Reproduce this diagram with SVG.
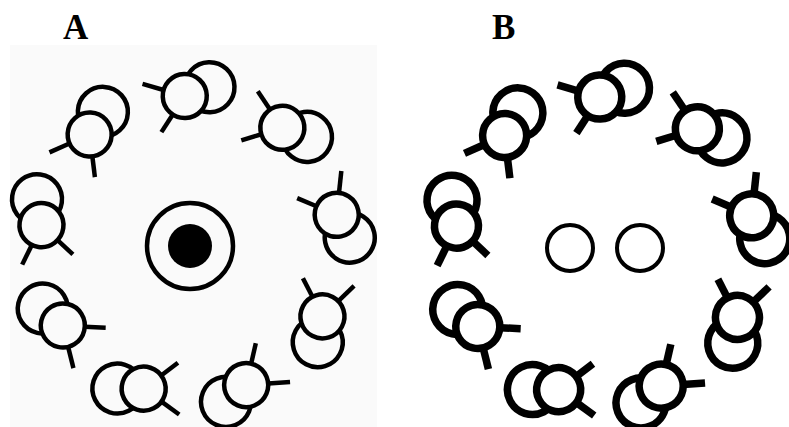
<svg xmlns="http://www.w3.org/2000/svg" width="789" height="427" viewBox="0 0 789 427">
<style>
.lbl{font-family:"Liberation Serif","Times New Roman",serif;font-weight:bold;font-size:35px;fill:#000}
.tub{stroke:#000;stroke-linecap:butt}
#panelA{stroke-width:4.5;fill:#fafafa}
#panelB{stroke-width:7.5;fill:#fff}
</style>
<defs>
<g id="doublet" class="tub">
<circle cx="25" cy="-8" r="25"/>
<circle cx="0" cy="0" r="22"/>
<line x1="-21" y1="-6.8" x2="-41.8" y2="-13.6"/>
<line x1="-12.6" y1="18" x2="-24.6" y2="35.2"/>
</g>
</defs>
<rect width="789" height="427" fill="#fff"/>
<rect x="10" y="45" width="367" height="382" fill="#fafafa"/>
<text class="lbl" x="63" y="39">A</text>
<text class="lbl" x="492" y="39">B</text>
<g id="panelA">
<g id="A-doublets">
<use id="A-d1" href="#doublet" transform="translate(190 246) rotate(-2) translate(0 -150)"/>
<use id="A-d2" href="#doublet" transform="translate(190 246) rotate(38) translate(0 -150)"/>
<use id="A-d3" href="#doublet" transform="translate(190 246) rotate(78) translate(0 -150)"/>
<use id="A-d4" href="#doublet" transform="translate(190 246) rotate(118) translate(0 -150)"/>
<use id="A-d5" href="#doublet" transform="translate(190 246) rotate(158) translate(0 -150)"/>
<use id="A-d6" href="#doublet" transform="translate(190 246) rotate(198) translate(0 -150)"/>
<use id="A-d7" href="#doublet" transform="translate(190 246) rotate(238) translate(0 -150)"/>
<use id="A-d8" href="#doublet" transform="translate(190 246) rotate(278) translate(0 -150)"/>
<use id="A-d9" href="#doublet" transform="translate(190 246) rotate(318) translate(0 -150)"/>
</g>
<g id="A-central">
<circle cx="190" cy="246" r="43" stroke="#000" stroke-width="4.5" fill="none"/>
<circle cx="190" cy="246" r="22" fill="#000" stroke="none"/>
</g>
</g>
<g id="panelB">
<g id="B-doublets">
<use id="B-d1" href="#doublet" transform="translate(605 247) rotate(-2) translate(0 -150)"/>
<use id="B-d2" href="#doublet" transform="translate(605 247) rotate(38) translate(0 -150)"/>
<use id="B-d3" href="#doublet" transform="translate(605 247) rotate(78) translate(0 -150)"/>
<use id="B-d4" href="#doublet" transform="translate(605 247) rotate(118) translate(0 -150)"/>
<use id="B-d5" href="#doublet" transform="translate(605 247) rotate(158) translate(0 -150)"/>
<use id="B-d6" href="#doublet" transform="translate(605 247) rotate(198) translate(0 -150)"/>
<use id="B-d7" href="#doublet" transform="translate(605 247) rotate(238) translate(0 -150)"/>
<use id="B-d8" href="#doublet" transform="translate(605 247) rotate(278) translate(0 -150)"/>
<use id="B-d9" href="#doublet" transform="translate(605 247) rotate(318) translate(0 -150)"/>
</g>
<g id="B-central">
<circle cx="570" cy="248" r="23" stroke="#000" stroke-width="4" fill="none"/>
<circle cx="640" cy="248" r="23" stroke="#000" stroke-width="4" fill="none"/>
</g>
</g>
</svg>
